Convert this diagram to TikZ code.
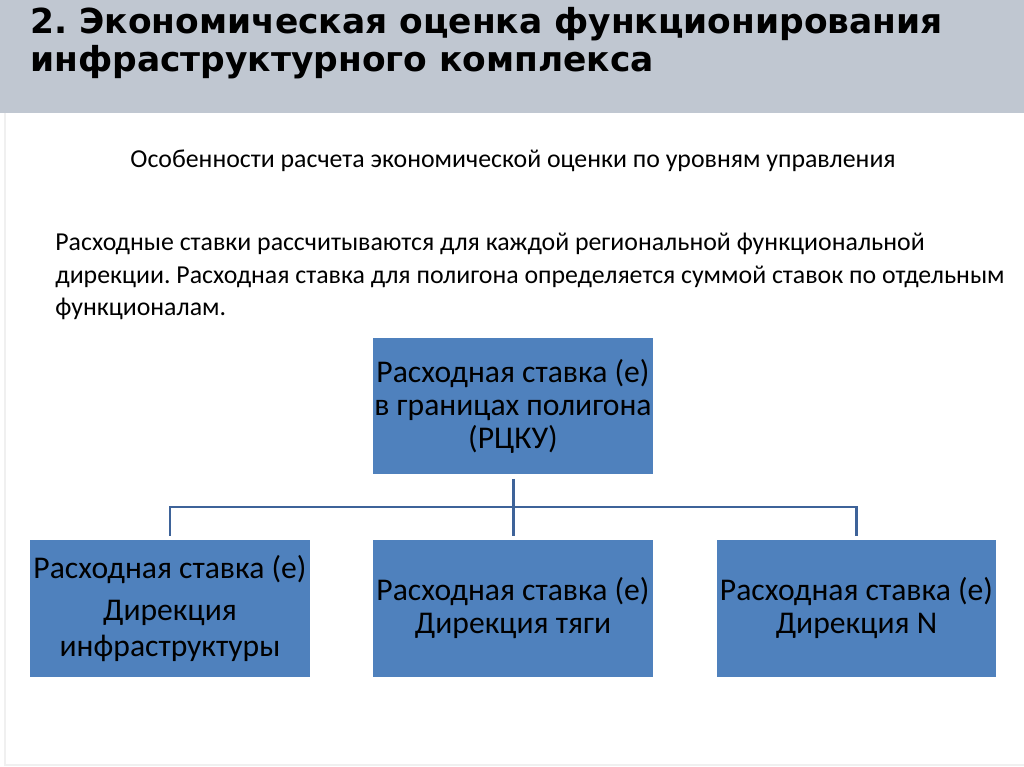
\documentclass[tikz,border=0pt]{standalone}
\usepackage{fontspec}
\setmainfont{Carlito}
\newfontfamily\headfont{DejaVu Sans}
\usetikzlibrary{positioning}
\definecolor{bandc}{HTML}{C0C7D1}
\definecolor{boxc}{HTML}{4F81BD}
\definecolor{wirec}{HTML}{3E6399}
\definecolor{rimc}{HTML}{F0F0F0}
\frenchspacing
\tikzset{
  rate/.style={rectangle, fill=boxc, minimum width=5.6cm, minimum height=2.74cm,
    inner sep=0pt, align=center, font=\fontsize{18}{18.8}\selectfont},
  wire/.style={wirec, line width=1.7pt, shorten <=0.08cm, shorten >=0.08cm},
  txt/.style={inner sep=0pt, font=\fontsize{14.7}{18.5}\selectfont},
  head/.style={inner sep=0pt, align=left, font=\headfont\bfseries\fontsize{19.6}{21.6}\selectfont},
}

\begin{document}
\begin{tikzpicture}[x=0.02cm, y=-0.02cm]
  \useasboundingbox (0,0) rectangle (1024,767);
  % header band
  \fill[bandc] (0,0) rectangle (1024,113);
  \draw[rimc, line width=1pt] (5,113) -- (5,765) -- (1024,765);
  \node[head, anchor=north west] (title) at (30,7)
    {2. Экономическая оценка функционирования\\инфраструктурного комплекса};
  % texts
  \node[txt] (sub) at (513,161) {Особенности расчета экономической оценки по уровням управления};
  \node[txt, align=left, anchor=north west] (para) at (55,233)
    {Расходные ставки рассчитываются для каждой региональной функциональной\\
     дирекции. Расходная ставка для полигона определяется суммой ставок по отдельным\\
     функционалам.};
  % boxes
  \node[rate] (top) at (513,406) {Расходная ставка (е)\\в границах полигона\\(РЦКУ)};
  \node[rate] (infra) at (170,608.5) {Расходная ставка (е)\\[5pt]Дирекция\\[2pt]инфраструктуры};
  \node[rate] (traction) at (513,608.5) {Расходная ставка (е)\\Дирекция тяги};
  \node[rate] (dirN) at (856.5,608.5) {Расходная ставка (е)\\Дирекция N};
  % connectors
  \coordinate (bus) at (513,507);
  \draw[wire] (top.south) -- (traction.north);
  \draw[wire] (infra.north) |- (bus) -| (dirN.north);
\end{tikzpicture}
\end{document}
